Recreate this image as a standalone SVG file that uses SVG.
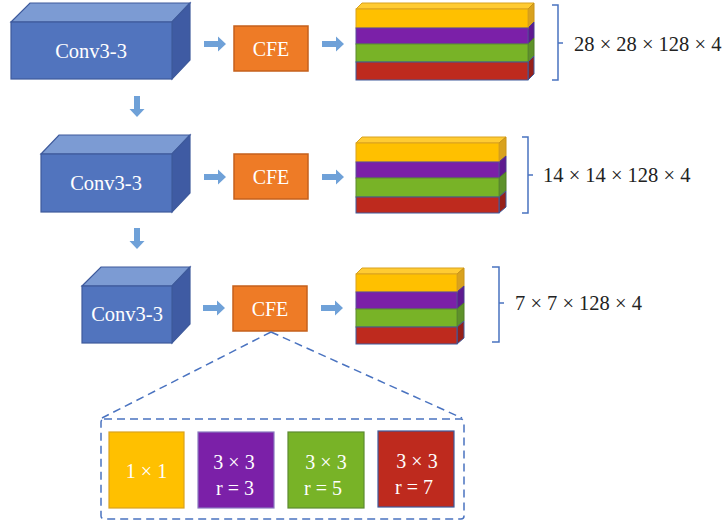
<svg xmlns="http://www.w3.org/2000/svg" width="722" height="525" viewBox="0 0 722 525">
  <defs>
    <style>
      .front { fill: #5174BE; stroke: #3E5A9C; stroke-width: 1.2; }
      .top { fill: #7C9BD3; stroke: #3E5A9C; stroke-width: 1.2; }
      .side { fill: #3F5BA3; stroke: #3E5A9C; stroke-width: 1.2; }
      .cfe { fill: #EE7B26; stroke: #C5601C; stroke-width: 1.5; }
      .lbl { font-family: "Liberation Serif", "Times New Roman", serif; fill: #ffffff; text-anchor: middle; }
      .dim { font-family: "Liberation Serif", "Times New Roman", serif; fill: #222222; font-size: 20.5px; }
      .arrow { fill: #6FA1D8; }
      .brace { fill: none; stroke: #4A73C0; stroke-width: 1.5; }
      .dash { fill: none; stroke: #4A73C0; stroke-width: 1.5; stroke-dasharray: 8 5; }
      .y { fill: #FFC000; stroke: #D9A21E; stroke-width: 1; }
      .yt { fill: #FFCB32; stroke: #D9A21E; stroke-width: 1; }
      .ys { fill: #D9A21E; stroke: #C89216; stroke-width: 1; }
      .p { fill: #7B20A8; stroke: #5A4A9A; stroke-width: 1; }
      .ps { fill: #5F1A8F; stroke: #4A3A8A; stroke-width: 1; }
      .g { fill: #78B327; stroke: #5C8A30; stroke-width: 1; }
      .gs { fill: #5E922A; stroke: #4E7A26; stroke-width: 1; }
      .r { fill: #BE2A1E; stroke: #3E5A9C; stroke-width: 1; }
      .rs { fill: #962019; stroke: #3E5A9C; stroke-width: 1; }
    </style>
    <path id="arrR" d="M0,-3 H14 V-7.5 L22,0 L14,7.5 V3 H0 Z"/>
    <path id="arrD" d="M-3,0 V13 H-7.5 L0,21 L7.5,13 H3 V0 Z"/>
  </defs>

  <!-- Convolution blocks (cuboids) -->
  <g id="conv1">
    <polygon class="top" points="11,22 30,3 190,3 172,22"/>
    <polygon class="side" points="172,22 190,3 190,60 172,79"/>
    <rect class="front" x="11" y="22" width="161" height="57"/>
    <text class="lbl" x="91" y="58" font-size="20.5">Conv3-3</text>
  </g>
  <g id="conv2">
    <polygon class="top" points="41,154 59,135 190,135 172,154"/>
    <polygon class="side" points="172,154 190,135 190,193 172,212"/>
    <rect class="front" x="41" y="154" width="131" height="58"/>
    <text class="lbl" x="106" y="190" font-size="20.5">Conv3-3</text>
  </g>
  <g id="conv3">
    <polygon class="top" points="82,286 101,267 190,267 172,286"/>
    <polygon class="side" points="172,286 190,267 190,324 172,343"/>
    <rect class="front" x="82" y="286" width="90" height="57"/>
    <text class="lbl" x="127" y="321" font-size="20.5">Conv3-3</text>
  </g>

  <!-- CFE modules -->
  <g id="cfe1">
    <rect class="cfe" x="234" y="26" width="74" height="45"/>
    <text class="lbl" x="271" y="56" font-size="20">CFE</text>
  </g>
  <g id="cfe2">
    <rect class="cfe" x="234" y="154" width="74" height="45"/>
    <text class="lbl" x="271" y="184" font-size="20">CFE</text>
  </g>
  <g id="cfe3">
    <rect class="cfe" x="233" y="286" width="74" height="45"/>
    <text class="lbl" x="270" y="316" font-size="20">CFE</text>
  </g>

  <!-- Feature stacks -->
  <g id="stack1">
    <polygon class="yt" points="356,9 362,3 534,3 528,9"/>
    <polygon class="ys" points="528,9 534,3 534,22 528,28"/>
    <polygon class="ps" points="528,28 534,22 534,38 528,44"/>
    <polygon class="gs" points="528,44 534,38 534,56 528,62"/>
    <polygon class="rs" points="528,62 534,56 534,74 528,80"/>
    <rect class="y" x="356" y="9" width="172" height="19"/>
    <rect class="p" x="356" y="28" width="172" height="16"/>
    <rect class="g" x="356" y="44" width="172" height="18"/>
    <rect class="r" x="356" y="62" width="172" height="18"/>
  </g>
  <g id="stack2">
    <polygon class="yt" points="356,143 362,137 506,137 499,143"/>
    <polygon class="ys" points="499,143 506,137 506,156 499,162"/>
    <polygon class="ps" points="499,162 506,156 506,172 499,178"/>
    <polygon class="gs" points="499,178 506,172 506,191 499,197"/>
    <polygon class="rs" points="499,197 506,191 506,207 499,213"/>
    <rect class="y" x="356" y="143" width="143" height="19"/>
    <rect class="p" x="356" y="162" width="143" height="16"/>
    <rect class="g" x="356" y="178" width="143" height="19"/>
    <rect class="r" x="356" y="197" width="143" height="16"/>
  </g>
  <g id="stack3">
    <polygon class="yt" points="356,274 362,268 464,268 457,274"/>
    <polygon class="ys" points="457,274 464,268 464,286 457,292"/>
    <polygon class="ps" points="457,292 464,286 464,303 457,309"/>
    <polygon class="gs" points="457,309 464,303 464,321 457,327"/>
    <polygon class="rs" points="457,327 464,321 464,338 457,344"/>
    <rect class="y" x="356" y="274" width="101" height="18"/>
    <rect class="p" x="356" y="292" width="101" height="17"/>
    <rect class="g" x="356" y="309" width="101" height="18"/>
    <rect class="r" x="356" y="327" width="101" height="17"/>
  </g>

  <!-- Size brackets and labels -->
  <g id="size1">
    <path class="brace" d="M552,5 H558 V80 H552 M558,43 H563"/>
    <text class="dim" x="574" y="51">28 × 28 × 128 × 4</text>
  </g>
  <g id="size2">
    <path class="brace" d="M522,137 H528 V213 H522 M528,175 H533"/>
    <text class="dim" x="543" y="182">14 × 14 × 128 × 4</text>
  </g>
  <g id="size3">
    <path class="brace" d="M492,267 H499 V342 H492 M499,303 H504"/>
    <text class="dim" x="515" y="310">7 × 7 × 128 × 4</text>
  </g>

  <!-- Branch kernels of the CFE module -->
  <g id="kernels">
    <rect class="dash" x="101" y="419" width="363" height="100" rx="3"/>
    <g id="k1">
      <rect x="109" y="432" width="75" height="76" fill="#FFC000" stroke="#D9A21E" stroke-width="1.2"/>
      <text class="lbl" x="146.5" y="478" font-size="20">1 × 1</text>
    </g>
    <g id="k2">
      <rect x="198" y="432" width="76" height="76" fill="#7B20A8" stroke="#8A7AC0" stroke-width="1.2"/>
      <text class="lbl" x="234" y="469" font-size="20">3 × 3</text>
      <text class="lbl" x="235" y="495" font-size="20">r = 3</text>
    </g>
    <g id="k3">
      <rect x="288" y="432" width="76" height="76" fill="#78B327" stroke="#5C8A30" stroke-width="1.2"/>
      <text class="lbl" x="326" y="469" font-size="20">3 × 3</text>
      <text class="lbl" x="323" y="495" font-size="20">r = 5</text>
    </g>
    <g id="k4">
      <rect x="378" y="431" width="76" height="76" fill="#BE2A1E" stroke="#3E5A9C" stroke-width="1.2"/>
      <text class="lbl" x="417" y="468" font-size="20">3 × 3</text>
      <text class="lbl" x="414" y="494" font-size="20">r = 7</text>
    </g>
  </g>

  <!-- Connectors -->
  <g id="connectors">
    <use href="#arrR" class="arrow" x="204" y="44"/>
    <use href="#arrR" class="arrow" x="322" y="44"/>
    <use href="#arrR" class="arrow" x="204" y="177"/>
    <use href="#arrR" class="arrow" x="322" y="177"/>
    <use href="#arrR" class="arrow" x="203" y="308"/>
    <use href="#arrR" class="arrow" x="321" y="308"/>
    <use href="#arrD" class="arrow" x="137" y="96"/>
    <use href="#arrD" class="arrow" x="137" y="228"/>
    <path class="dash" d="M271,332 L102,418 M271,332 L462,418"/>
  </g>
</svg>
